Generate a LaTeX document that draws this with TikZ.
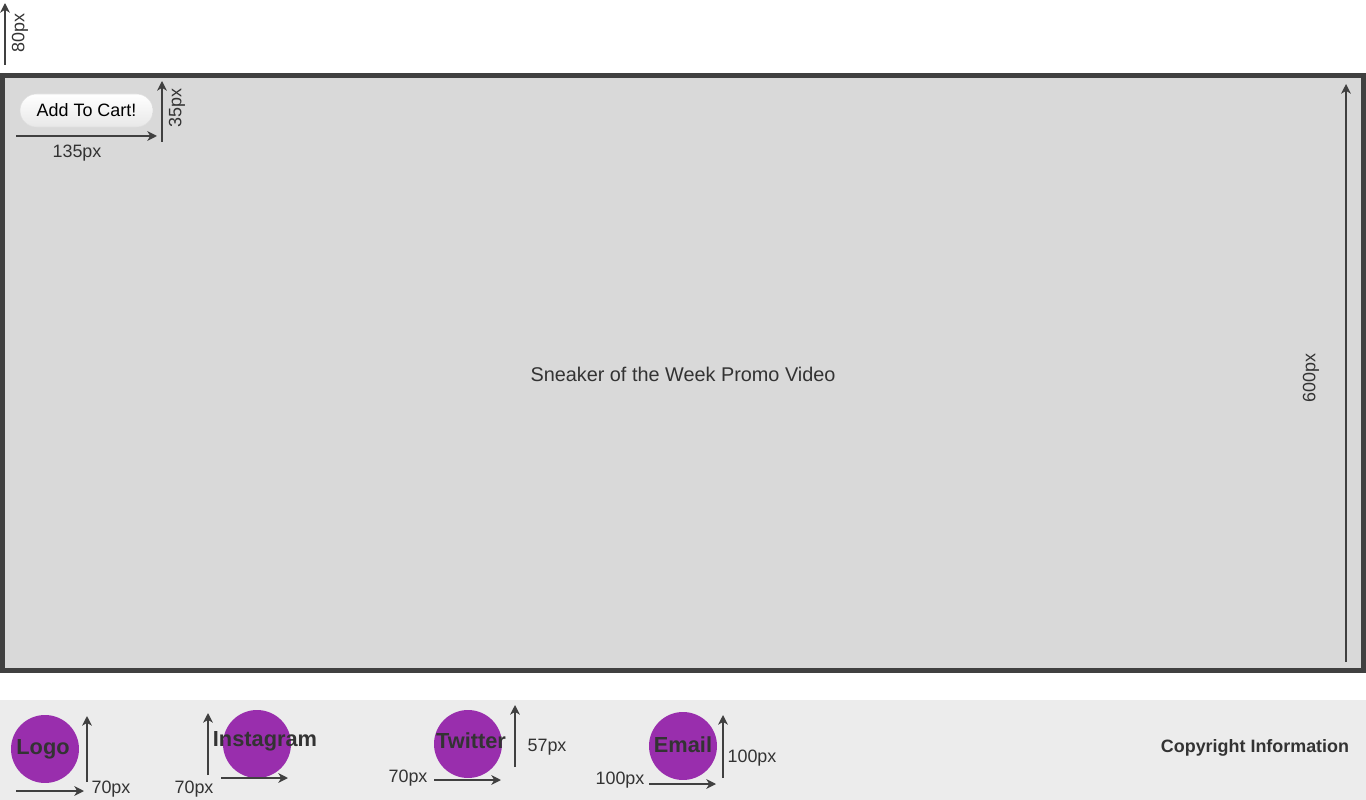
\documentclass[tikz,border=0pt]{standalone}
\usepackage{fontspec}
\setmainfont{Liberation Sans}
\usepackage{tikz}
\usepackage{xcolor}
\usetikzlibrary{calc}
\usetikzlibrary{arrows.meta}
\definecolor{frame}{HTML}{404040}
\definecolor{video}{HTML}{D9D9D9}
\definecolor{footer}{HTML}{ECECEC}
\definecolor{social}{HTML}{992EAD}
\definecolor{ink}{HTML}{333333}
\tikzset{>={Stealth[length=5.5pt,width=5.5pt,inset=1.6pt]}}
\tikzstyle{dim} = [line width=1.2pt,->,draw=frame]
\tikzstyle{dimlabel} = [text=ink, font=\fontsize{10.2}{12}\selectfont, inner sep=0pt]
\tikzstyle{icon} = [circle, fill=social, minimum size=1.36cm, inner sep=0pt]
\tikzstyle{iconlabel} = [text=ink, font=\fontsize{12.4}{14}\selectfont\bfseries, inner sep=0pt]

\begin{document}
\begin{tikzpicture}[x=0.02cm, y=-0.02cm]
    \useasboundingbox (0,0) rectangle (1366,800);

    % Header height
    \coordinate (hb) at (5,65);
    \coordinate (ht) at (5,3);
    \draw[dim] (hb) -- (ht);
    \node[dimlabel, rotate=90] (hlab) at (20,33) {80px};

    % Video area
    \draw[line width=2.83pt, draw=frame, fill=video] (2.5,75.5) rectangle (1363.5,670.5);
    \node[text=ink, font=\fontsize{11.3}{13}\selectfont] (promo) at (683,374) {Sneaker of the Week Promo Video};

    % Add to cart button
    \node[rounded corners=0.33cm, minimum width=2.66cm, minimum height=0.66cm, top color=white, bottom color=gray!18,
        draw=gray!25, line width=0.3pt, font=\fontsize{10.2}{12}\selectfont, inner sep=0pt] (cart) at (86.5,110.5) {Add To Cart!};
    \coordinate (cb) at (162,142);
    \coordinate (ct) at (162,81);
    \draw[dim] (cb) -- (ct);
    \node[dimlabel, rotate=90] (chlab) at (177,108) {35px};
    \coordinate (cl) at (16,136);
    \coordinate (cr) at (157,136);
    \draw[dim] (cl) -- (cr);
    \node[dimlabel] (cwlab) at (77,153) {135px};

    % Video height
    \coordinate (vb) at (1346,662);
    \coordinate (vt) at (1346,84);
    \draw[dim] (vb) -- (vt);
    \node[dimlabel, rotate=90] (vlab) at (1311,378) {600px};

    % Footer
    \fill[footer] (0,700) rectangle (1366,800);

    % Logo
    \node[icon] (logo) at (45,749) {};
    \node[iconlabel] at (43,749) {Logo};
    \coordinate (lb) at (87,782);
    \coordinate (lt) at (87,716);
    \draw[dim] (lb) -- (lt);
    \coordinate (ll) at (16,791);
    \coordinate (lr) at (84,791);
    \draw[dim] (ll) -- (lr);
    \node[dimlabel] (llab) at (111,789) {70px};

    % Instagram
    \node[icon] (insta) at (257,744) {};
    \node[iconlabel] at (265,741) {Instagram};
    \coordinate (ib) at (208,775);
    \coordinate (it) at (208,713);
    \draw[dim] (ib) -- (it);
    \coordinate (il) at (221,778);
    \coordinate (ir) at (288,778);
    \draw[dim] (il) -- (ir);
    \node[dimlabel] (ilab) at (194,789) {70px};

    % Twitter
    \node[icon] (twitter) at (468,744) {};
    \node[iconlabel] at (471,741) {Twitter};
    \coordinate (tb) at (515,767);
    \coordinate (tt) at (515,705);
    \draw[dim] (tb) -- (tt);
    \node[dimlabel] (thlab) at (547,747) {57px};
    \coordinate (tl) at (434,780);
    \coordinate (tr) at (501,780);
    \draw[dim] (tl) -- (tr);
    \node[dimlabel] (twlab) at (408,778) {70px};

    % Email
    \node[icon] (email) at (683,746) {};
    \node[iconlabel] at (683,745) {Email};
    \coordinate (eb) at (723,778);
    \coordinate (et) at (723,715);
    \draw[dim] (eb) -- (et);
    \node[dimlabel] (ehlab) at (752,758) {100px};
    \coordinate (el) at (649,784);
    \coordinate (er) at (716,784);
    \draw[dim] (el) -- (er);
    \node[dimlabel] (ewlab) at (620,780) {100px};

    % Copyright
    \node[text=ink, font=\fontsize{10.2}{12}\selectfont\bfseries, inner sep=0pt] (copy) at (1255,748) {Copyright Information};
\end{tikzpicture}
\end{document}
